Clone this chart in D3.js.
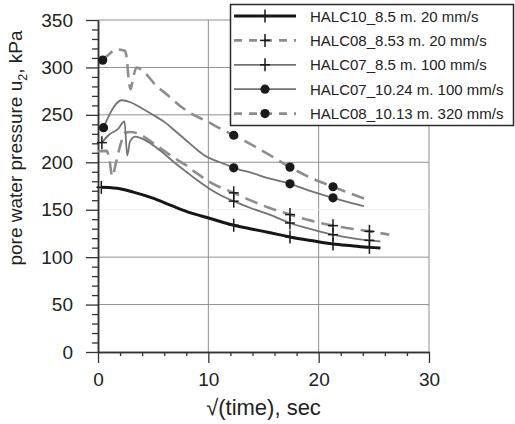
<!DOCTYPE html>
<html>
<head>
<meta charset="utf-8">
<script src="https://cdn.jsdelivr.net/npm/d3@7"></script>
<style>
  body { margin: 0; background: #fff; }
  svg { display: block; }
  text { font-family: "Liberation Sans", Arial, sans-serif; fill: #222; }
</style>
</head>
<body>
<svg id="chart" width="515" height="424"></svg>
<script>
// Pore water pressure dissipation curves: [sqrt(time) in sec^0.5, u2 in kPa]
const seriesLabels = [
  "HALC10_8.5 m. 20 mm/s",
  "HALC08_8.53 m. 20 mm/s",
  "HALC07_8.5 m. 100 mm/s",
  "HALC07_10.24 m. 100 mm/s",
  "HALC08_10.13 m. 320 mm/s"
];

const halc10_85 = [
  [0.3, 173.6], [1.0, 173.5], [2.0, 172], [3.2, 168.5], [4.9, 162.5], [6.8, 153.7],
  [8.4, 146.7], [10.1, 141], [12.3, 133.6], [14, 129.5], [15.5, 126], [17.4, 121.3],
  [19.3, 117.5], [21.3, 113.9], [23, 112], [24.6, 110.3], [25.6, 109.6]
];

const halc08_853 = [
  [0.0, 211.8], [0.8, 212], [1.0, 205], [1.3, 185], [1.6, 198], [2.0, 217], [2.45, 231],
  [2.9, 232], [3.7, 230], [4.9, 221], [6.0, 212], [7.0, 204], [7.9, 197.5], [9.0, 188],
  [10.3, 178], [12.3, 167.8], [14, 159], [15.5, 152], [17.4, 144.9], [19.3, 138.5],
  [21.3, 133.2], [23, 130], [24.6, 127.2], [26.4, 123.7]
];

const halc07_85 = [
  [0.35, 220.7], [1.0, 229], [1.8, 235], [2.4, 243], [2.65, 207], [2.9, 222], [3.4, 227],
  [4.0, 225], [5.0, 218], [6.0, 209], [7.0, 199], [8.0, 190], [9.0, 181], [10.0, 173],
  [11.0, 166], [12.3, 159], [14, 151], [15.5, 145], [17.4, 136], [19.3, 129.5],
  [21.3, 123.7], [23, 120], [24.6, 117.7], [25.6, 116.7]
];

const halc07_1024 = [
  [0.5, 236.5], [1.1, 251.6], [1.6, 261], [2.15, 265.4], [3.0, 263], [3.8, 258],
  [4.9, 250.6], [6.1, 241.8], [7.0, 233], [8.0, 223], [9.0, 213], [9.9, 205.5],
  [10.6, 202], [11.5, 198], [12.3, 194.2], [14, 188.5], [15.5, 183], [17.4, 177.3],
  [19.3, 169.5], [21.3, 162.5], [23, 157], [24.1, 153.7]
];

const halc08_1013 = [
  [0.43, 307.7], [1.0, 314], [1.7, 319], [2.45, 317.5], [2.6, 310], [2.8, 285],
  [2.95, 277], [3.2, 290], [3.5, 300], [4.0, 297], [5.3, 280.5], [6.4, 270],
  [7.45, 259.4], [8.5, 251], [9.9, 243], [11, 236], [12.3, 228.5], [14, 218],
  [15.5, 208], [17.4, 194.9], [19.3, 183.5], [21.3, 174.2], [23, 166.5], [24.4, 160.7]
];

// sqrt(time) readings that carry a marker on each curve
const halc10_85Marks = [0.3, 12.3, 17.4, 21.3, 24.6];
const halc08_853Marks = [12.3, 17.4, 21.3, 24.6];
const halc07_85Marks = [0.35, 12.3, 17.4, 21.3, 24.6];
const halc07_1024Marks = [0.5, 12.3, 17.4, 21.3];
const halc08_1013Marks = [0.43, 12.3, 17.4, 21.3];

const xMajorTicks = [0, 10, 20, 30];
const yMajorTicks = [0, 50, 100, 150, 200, 250, 300, 350];

const series = [
  { label: seriesLabels[0], data: halc10_85, marks: halc10_85Marks, marker: "plus",
    color: "#161616", width: 3, dash: null, legendDash: null },
  { label: seriesLabels[1], data: halc08_853, marks: halc08_853Marks, marker: "plus",
    color: "#8e8e8e", width: 2.6, dash: "13,7", legendDash: "8,7" },
  { label: seriesLabels[2], data: halc07_85, marks: halc07_85Marks, marker: "plus",
    color: "#737373", width: 1.8, dash: null, legendDash: null },
  { label: seriesLabels[3], data: halc07_1024, marks: halc07_1024Marks, marker: "dot",
    color: "#737373", width: 1.8, dash: null, legendDash: null },
  { label: seriesLabels[4], data: halc08_1013, marks: halc08_1013Marks, marker: "dot",
    color: "#8e8e8e", width: 2.6, dash: "13,7", legendDash: "8,7" }
];

const svg = d3.select("#chart");
const x = d3.scaleLinear().domain([0, 30]).range([98, 429]);
const y = d3.scaleLinear().domain([0, 350]).range([352, 20]);

// grid
const grid = svg.append("g");
grid.selectAll("line.v").data(xMajorTicks.filter(d => d > 0)).join("line")
  .attr("x1", d => x(d)).attr("x2", d => x(d))
  .attr("y1", y(0)).attr("y2", y(350))
  .attr("stroke", "#8f8f8f").attr("stroke-width", 1);
grid.selectAll("line.h").data(yMajorTicks.filter(d => d > 0)).join("line")
  .attr("x1", x(0)).attr("x2", x(30))
  .attr("y1", d => y(d)).attr("y2", d => y(d))
  .attr("stroke", d => d === 150 ? "#eeeeee" : "#8f8f8f").attr("stroke-width", 1);

// axes
const styleAxis = g => {
  g.selectAll(".domain").attr("stroke", "#333").attr("stroke-width", 1.5);
  g.selectAll(".tick line").attr("stroke", "#333").attr("stroke-width", 1.3);
  g.selectAll("text").attr("font-size", 19).attr("fill", "#222")
    .attr("font-family", "'Liberation Sans', Arial, sans-serif");
};

svg.append("g").attr("transform", `translate(0,${y(0)})`)
  .call(d3.axisBottom(x).tickValues(d3.range(2, 30, 2).filter(d => d % 10 !== 0))
    .tickSize(4).tickSizeOuter(0).tickFormat(""))
  .call(styleAxis);
svg.append("g").attr("transform", `translate(0,${y(0)})`)
  .call(d3.axisBottom(x).tickValues(xMajorTicks).tickSize(11).tickSizeOuter(0).tickPadding(10))
  .call(styleAxis);

svg.append("g").attr("transform", `translate(${x(0)},0)`)
  .call(d3.axisLeft(y).tickValues(d3.range(10, 350, 10).filter(d => d % 50 !== 0))
    .tickSize(6).tickSizeOuter(0).tickFormat(""))
  .call(styleAxis);
svg.append("g").attr("transform", `translate(${x(0)},0)`)
  .call(d3.axisLeft(y).tickValues(yMajorTicks).tickSize(12).tickSizeOuter(0).tickPadding(13))
  .call(styleAxis);

// axis titles
svg.append("text")
  .attr("x", (x(0) + x(30)) / 2).attr("y", 415)
  .attr("text-anchor", "middle").attr("font-size", 22)
  .text("√(time), sec");

const yTitle = svg.append("text")
  .attr("transform", "translate(22,148) rotate(-90)")
  .attr("text-anchor", "middle").attr("font-size", 19);
yTitle.append("tspan").text("pore water pressure u");
yTitle.append("tspan").attr("font-size", 12.5).attr("dy", 5).text("2");
yTitle.append("tspan").attr("dy", -5).text(", kPa");

// curves
const line = d3.line().x(d => x(d[0])).y(d => y(d[1])).curve(d3.curveMonotoneX);
const curves = svg.append("g");
series.forEach(s => {
  curves.append("path").datum(s.data)
    .attr("d", line).attr("fill", "none")
    .attr("stroke", s.color).attr("stroke-width", s.width)
    .attr("stroke-dasharray", s.dash)
    .attr("stroke-linejoin", "round");
});

function drawMarker(g, type, cx, cy) {
  if (type === "dot") {
    g.append("circle").attr("cx", cx).attr("cy", cy).attr("r", 4.6).attr("fill", "#1a1a1a");
  } else {
    g.append("line").attr("x1", cx - 5).attr("x2", cx + 5).attr("y1", cy).attr("y2", cy)
      .attr("stroke", "#1a1a1a").attr("stroke-width", 1.5);
    g.append("line").attr("x1", cx).attr("x2", cx).attr("y1", cy - 6.5).attr("y2", cy + 6.5)
      .attr("stroke", "#1a1a1a").attr("stroke-width", 1.5);
  }
}

const markers = svg.append("g");
series.forEach(s => {
  s.marks.forEach(mx => {
    const p = s.data.find(d => d[0] === mx);
    if (p) drawMarker(markers, s.marker, x(p[0]), y(p[1]));
  });
});

// legend
const legend = svg.append("g");
legend.append("rect")
  .attr("x", 230.5).attr("y", 4.5).attr("width", 283).attr("height", 121)
  .attr("fill", "#fff").attr("stroke", "#2a2a2a").attr("stroke-width", 1.5);
series.forEach((s, i) => {
  const ry = 16 + i * 24.4;
  legend.append("line")
    .attr("x1", 234).attr("x2", 296).attr("y1", ry).attr("y2", ry)
    .attr("stroke", s.color).attr("stroke-width", s.width)
    .attr("stroke-dasharray", s.legendDash);
  drawMarker(legend, s.marker, 265, ry);
  legend.append("text")
    .attr("x", 310).attr("y", ry + 5.5)
    .attr("font-size", 15)
    .text(s.label);
});
</script>
</body>
</html>
